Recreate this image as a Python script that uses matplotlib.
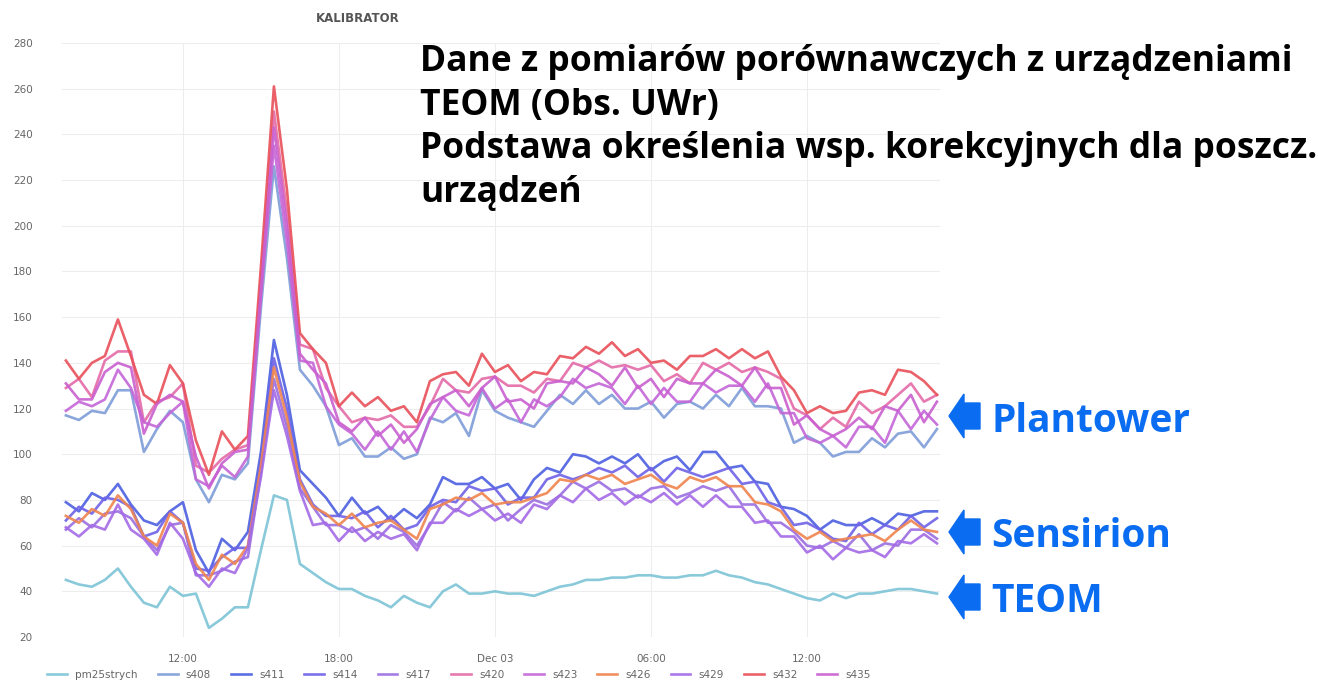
import numpy as np
import pandas as pd
import matplotlib
matplotlib.use('Agg')
import matplotlib.pyplot as plt
from matplotlib.patches import Polygon

# half-hour samples, Dec 02 07:30 -> Dec 03 17:00
times = pd.date_range('2019-12-02 07:30', periods=68, freq='30min')

pm25strych = [45,43,42,45,50,42,35,33,42,38,39,24,28,33,33,58,82,80,52,48,44,41,41,38,36,33,38,35,33,40,43,39,39,40,39,39,38,40,42,43,45,45,46,46,47,47,46,46,47,47,49,47,46,44,43,41,39,37,36,39,37,39,39,40,41,41,40,39]

# Plantower group
s432 = [141,133,140,143,159,143,126,122,139,131,106,91,110,102,108,182,261,216,153,146,140,121,127,121,125,119,121,114,132,135,136,130,144,136,139,132,136,135,143,142,147,144,149,143,146,140,141,137,143,143,146,142,146,142,145,134,128,118,121,118,119,127,128,126,137,136,132,126]
s420 = [129,133,125,141,145,145,114,123,125,131,95,92,98,102,104,176,250,206,148,146,129,121,114,116,115,117,112,112,121,133,128,127,133,134,130,130,127,133,132,140,138,141,138,139,137,139,132,135,131,140,137,140,136,138,136,133,120,117,111,116,112,123,118,121,126,131,123,126]
s435 = [131,124,124,136,140,138,109,122,126,123,99,85,96,101,102,172,243,200,144,137,131,114,110,116,108,113,105,111,122,125,128,121,129,134,123,124,120,131,132,131,138,135,130,138,129,133,125,133,131,131,137,134,130,138,129,129,113,117,111,108,111,116,111,121,119,126,114,123]
s423 = [119,123,121,124,137,129,114,112,118,123,89,86,95,90,99,169,235,193,141,140,121,113,109,102,110,102,110,101,115,125,119,117,129,120,124,114,124,121,125,133,129,131,129,122,130,122,129,123,123,131,127,130,130,123,131,118,118,107,105,108,103,112,112,105,119,111,119,113]
s408 = [117,115,119,118,128,128,101,111,119,114,89,79,91,89,96,164,226,186,137,130,121,104,107,99,99,103,98,100,116,114,118,108,128,119,116,114,112,119,126,122,128,122,126,120,120,123,116,122,123,120,126,121,129,121,121,120,105,108,105,99,101,101,107,103,109,110,103,111]

# Sensirion group
s411 = [79,75,83,80,87,78,71,69,75,79,58,48,63,58,66,101,150,126,93,87,81,73,81,74,77,71,76,72,78,90,87,87,90,85,87,80,89,94,92,100,99,96,99,96,100,93,97,99,93,101,101,94,95,88,87,77,76,73,67,71,69,69,72,69,74,73,75,75]
s414 = [71,77,74,81,80,77,64,66,75,70,50,49,55,59,59,97,142,120,89,78,73,73,72,75,68,73,67,69,77,80,79,86,84,85,78,81,81,89,91,89,91,94,92,95,90,94,88,94,92,90,92,94,87,88,79,77,69,70,67,63,62,70,65,69,67,73,68,72]
s426 = [73,70,76,73,82,76,64,60,74,70,52,45,56,52,60,95,138,116,88,77,74,69,74,68,70,71,67,63,76,78,81,80,83,78,79,79,81,83,89,88,91,89,91,87,89,91,87,85,90,88,90,86,86,79,78,75,67,63,66,62,63,64,65,62,67,71,67,66]
s417 = [67,72,68,74,75,72,64,58,69,70,47,47,49,53,55,92,133,112,85,77,69,69,66,68,63,69,66,60,69,79,75,81,76,78,71,76,80,78,82,88,85,88,84,85,81,85,86,81,83,86,84,86,78,78,70,70,66,60,59,62,59,65,58,61,60,67,67,63]
s429 = [68,64,69,67,78,67,63,56,70,63,48,42,50,48,59,90,128,108,84,69,70,62,68,62,66,63,65,58,70,70,76,73,76,71,74,70,78,76,82,79,85,80,83,78,82,79,83,78,82,77,82,77,77,70,71,64,64,57,60,54,59,57,58,55,62,61,65,61]

names = ['pm25strych', 's408', 's411', 's414', 's417', 's420', 's423', 's426', 's429', 's432', 's435']
data = [pm25strych, s408, s411, s414, s417, s420, s423, s426, s429, s432, s435]
colors = ['#7cc4d6', '#7e9cd8', '#4c5ee0', '#6f62e8', '#9a6ee0', '#e46aa8', '#c466d8',
          '#f0844e', '#a46ae6', '#e8505a', '#c95fd0']

tick_times = pd.to_datetime(['2019-12-02 12:00', '2019-12-02 18:00', '2019-12-03 00:00',
                             '2019-12-03 06:00', '2019-12-03 12:00'])
tick_labels = ['12:00', '18:00', 'Dec 03', '06:00', '12:00']

W, H = 1318, 695
fig = plt.figure(figsize=(W / 100, H / 100), dpi=100)
ax = fig.add_axes([62 / W, 1 - 637 / H, 878 / W, 594 / H])

for name, vals, col in zip(names, data, colors):
    ax.plot(times, vals, color=col, lw=1.9, alpha=0.9, label=name)

ax.set_ylim(20, 280)
ax.set_yticks(range(20, 281, 20))
ax.set_xlim(pd.Timestamp('2019-12-02 07:21'), pd.Timestamp('2019-12-03 17:07'))
ax.set_xticks(tick_times)
ax.set_xticklabels(tick_labels)
ax.grid(color='#ededed', lw=0.8)
for s in ax.spines.values():
    s.set_visible(False)
ax.tick_params(length=0, labelsize=7.5, labelcolor='#666666')
ax.tick_params(axis='y', pad=21)
ax.tick_params(axis='x', pad=12)

fig.text(358 / W, 1 - 18 / H, 'KALIBRATOR', fontsize=8.5, fontweight='bold',
         color='#555555', ha='center', va='center')

fig.legend(loc='center left', bbox_to_anchor=(38 / W, 1 - 675 / H), ncol=11,
           frameon=False, fontsize=7.5, handlelength=1.9, columnspacing=1.9,
           labelcolor='#666666')

# annotation text
lines = ['Dane z pomiarów porównawczych z urządzeniami', 'TEOM (Obs. UWr)',
         'Podstawa określenia wsp. korekcyjnych dla poszcz.', 'urządzeń']
for k, txt in enumerate(lines):
    fig.text(420 / W, 1 - (71 + 43.5 * k) / H, txt, fontsize=25.5, fontweight='bold',
             family='Open Sans', color='black', va='baseline', ha='left')

blue = '#0a6cf0'
for label, yc, yb in [('Plantower', 416, 432), ('Sensirion', 532, 547), ('TEOM', 597, 612)]:
    px = [(949, yc), (964, yc - 22), (964, yc - 13), (980, yc - 13),
          (980, yc + 13), (964, yc + 13), (964, yc + 22)]
    pts = [(x / W, 1 - y / H) for x, y in px]
    fig.patches.append(Polygon(pts, closed=True, color=blue, transform=fig.transFigure))
    fig.text(991 / W, 1 - yb / H, label, fontsize=28, fontweight='bold', family='Open Sans',
             color=blue, va='baseline', ha='left')

fig.savefig('out.png', dpi=100)
